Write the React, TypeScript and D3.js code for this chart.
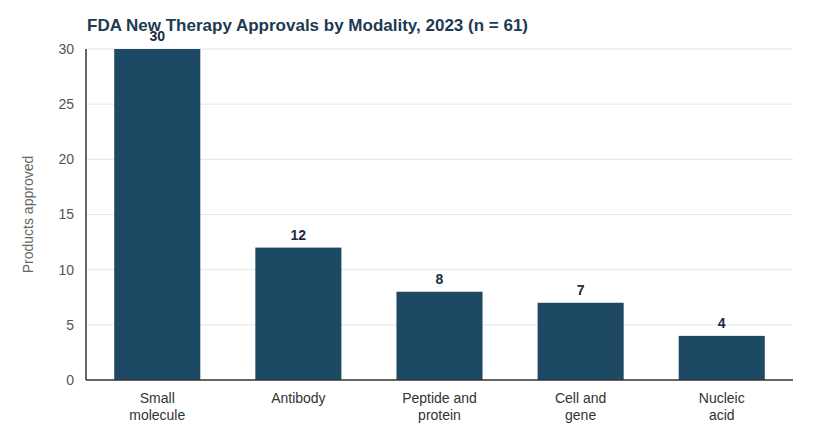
import { useEffect, useRef } from 'react';
import * as d3 from 'd3';

const categories = ['Small molecule', 'Antibody', 'Peptide and protein', 'Cell and gene', 'Nucleic acid'];
const categoryLines = [
  ['Small', 'molecule'],
  ['Antibody'],
  ['Peptide and', 'protein'],
  ['Cell and', 'gene'],
  ['Nucleic', 'acid'],
];
const approvals = [30, 12, 8, 7, 4];
const yTicks = [0, 5, 10, 15, 20, 25, 30];

export default function App() {
  const ref = useRef<SVGSVGElement>(null);

  useEffect(() => {
    if (!ref.current) return;
    const svg = d3.select(ref.current);
    svg.selectAll('*').remove();

    const width = 827;
    const height = 445;
    const margin = { top: 49, right: 34, bottom: 65, left: 86 };
    const innerWidth = width - margin.left - margin.right;
    const innerHeight = height - margin.top - margin.bottom;
    const font = '"Liberation Sans", Arial, sans-serif';

    const x = d3
      .scaleBand<string>()
      .domain(categories)
      .range([0, innerWidth])
      .paddingInner(0.39)
      .paddingOuter(0.2);

    const y = d3.scaleLinear().domain([0, 30]).range([innerHeight, 0]);

    const g = svg.append('g').attr('transform', `translate(${margin.left},${margin.top})`);

    // grid
    g.append('g')
      .selectAll('line')
      .data(yTicks.filter((t) => t > 0))
      .join('line')
      .attr('x1', 0)
      .attr('x2', innerWidth)
      .attr('y1', (d) => y(d))
      .attr('y2', (d) => y(d))
      .attr('stroke', '#e3e6ea')
      .attr('stroke-width', 1);

    // y tick labels
    g.append('g')
      .selectAll('text')
      .data(yTicks)
      .join('text')
      .attr('x', -12)
      .attr('y', (d) => y(d))
      .attr('dy', '0.35em')
      .attr('text-anchor', 'end')
      .attr('font-family', font)
      .attr('font-size', '14px')
      .attr('fill', '#555')
      .text((d) => d);

    // bars
    g.append('g')
      .selectAll('rect')
      .data(approvals)
      .join('rect')
      .attr('x', (_, i) => x(categories[i])!)
      .attr('y', (d) => y(d))
      .attr('width', x.bandwidth())
      .attr('height', (d) => innerHeight - y(d))
      .attr('fill', '#1e4965');

    // value labels
    g.append('g')
      .selectAll('text')
      .data(approvals)
      .join('text')
      .attr('x', (_, i) => x(categories[i])! + x.bandwidth() / 2)
      .attr('y', (d) => y(d) - 8)
      .attr('text-anchor', 'middle')
      .attr('font-family', font)
      .attr('font-size', '14px')
      .attr('font-weight', 'bold')
      .attr('fill', '#1a2b3c')
      .text((d) => d);

    // axes lines
    g.append('line')
      .attr('x1', 0)
      .attr('x2', 0)
      .attr('y1', 0)
      .attr('y2', innerHeight)
      .attr('stroke', '#333')
      .attr('stroke-width', 1.5);
    g.append('line')
      .attr('x1', 0)
      .attr('x2', innerWidth)
      .attr('y1', innerHeight)
      .attr('y2', innerHeight)
      .attr('stroke', '#333')
      .attr('stroke-width', 1.5);

    // category labels
    categories.forEach((c, i) => {
      const t = g
        .append('text')
        .attr('x', x(c)! + x.bandwidth() / 2)
        .attr('y', innerHeight + 23)
        .attr('text-anchor', 'middle')
        .attr('font-family', font)
        .attr('font-size', '14px')
        .attr('fill', '#333');
      categoryLines[i].forEach((line, j) => {
        t.append('tspan')
          .attr('x', x(c)! + x.bandwidth() / 2)
          .attr('dy', j === 0 ? 0 : 17)
          .text(line);
      });
    });

    // y axis title
    svg
      .append('text')
      .attr('transform', `translate(33,${margin.top + innerHeight / 2}) rotate(-90)`)
      .attr('text-anchor', 'middle')
      .attr('font-family', font)
      .attr('font-size', '14px')
      .attr('fill', '#666')
      .text('Products approved');

    // title
    svg
      .append('text')
      .attr('x', 87)
      .attr('y', 31)
      .attr('font-family', font)
      .attr('font-size', '17px')
      .attr('font-weight', 'bold')
      .attr('fill', '#1c3a52')
      .text('FDA New Therapy Approvals by Modality, 2023 (n = 61)');
  }, []);

  return (
    <svg
      ref={ref}
      width={827}
      height={445}
      style={{ position: 'absolute', left: 0, top: 0, background: '#fff' }}
    />
  );
}
